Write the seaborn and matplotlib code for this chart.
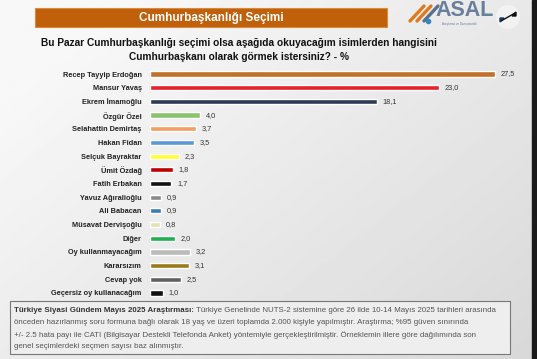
import numpy as np
import pandas as pd
import matplotlib.pyplot as plt
import seaborn as sns
from matplotlib.patches import Ellipse

names = ["Recep Tayyip Erdoğan", "Mansur Yavaş", "Ekrem İmamoğlu", "Özgür Özel",
         "Selahattin Demirtaş", "Hakan Fidan", "Selçuk Bayraktar", "Ümit Özdağ",
         "Fatih Erbakan", "Yavuz Ağıralioğlu", "Ali Babacan", "Müsavat Dervişoğlu",
         "Diğer", "Oy kullanmayacağım", "Kararsızım", "Cevap yok",
         "Geçersiz oy kullanacağım"]
values = [27.5, 23.0, 18.1, 4.0, 3.7, 3.5, 2.3, 1.8, 1.7, 0.9, 0.9, 0.8,
          2.0, 3.2, 3.1, 2.5, 1.0]
bar_colors = ["#C0712A", "#E3222B", "#2E3A55", "#8DC26F", "#F0A062", "#5B9BD5",
              "#FFFF33", "#C00000", "#111111", "#8A8A8A", "#3A7DB5", "#E2E2B4",
              "#20B050", "#BBBBBB", "#9C7A1A", "#606060", "#111111"]

title = "Cumhurbaşkanlığı Seçimi"
question = ("Bu Pazar Cumhurbaşkanlığı seçimi olsa aşağıda okuyacağım isimlerden hangisini\n"
            "Cumhurbaşkanı olarak görmek istersiniz? - %")
note_bold = "Türkiye Siyasi Gündem Mayıs 2025 Araştırması:"
note_lines = [
    " Türkiye Genelinde NUTS-2 sistemine göre 26 ilde 10-14 Mayıs 2025 tarihleri arasında",
    "önceden hazırlanmış soru formuna bağlı olarak 18 yaş ve üzeri toplamda 2.000 kişiyle yapılmıştır. Araştırma; %95 güven sınırında",
    "+/- 2.5 hata payı ile CATI (Bilgisayar Destekli Telefonda Anket) yöntemiyle gerçekleştirilmiştir. Örneklemin illere göre dağılımında son",
    "genel seçimlerdeki seçmen sayısı baz alınmıştır.",
]

df = pd.DataFrame({"name": names, "value": values})
palette = dict(zip(names, bar_colors))

sns.set_style("white")
plt.rcParams["font.family"] = ["Liberation Sans", "DejaVu Sans"]

W, H = 537, 359
fig = plt.figure(figsize=(W / 100, H / 100), dpi=100)

# slide background with soft gradient
bg = fig.add_axes([0, 0, 1, 1])
yy, xx = np.mgrid[0:1:200j, 0:1:300j]
grad = 0.97 - 0.13 * np.clip(0.6 * xx + 0.5 * yy - 0.15, 0, 1)
bg.imshow(grad, cmap="gray", vmin=0, vmax=1, aspect="auto", extent=[0, 1, 0, 1], origin="upper")
bg.set_xlim(0, 1)
bg.set_ylim(0, 1)
bg.axis("off")
bg.add_patch(plt.Rectangle((0.99, 0), 0.02, 1, color="#1a1a1a"))

# orange banner
bg.add_patch(plt.Rectangle((35 / W, 1 - 27 / H), 352 / W, 19 / H, color="#C0600B", ec="#d98a3a", lw=0.8))
bg.text(211 / W, 1 - 17.5 / H, title, ha="center", va="center", color="white",
        fontsize=8.5, fontweight="bold")

# logo
for i, c in enumerate(["#E07A1F", "#E07A1F", "#5A6F8C"]):
    bg.plot([(410 + i * 7) / W, (424 + i * 7) / W], [1 - 21 / H, 1 - 6 / H], color=c, lw=2.4,
            solid_capstyle="round")
bg.scatter([428 / W], [1 - 21 / H], s=9, color="#2E8BC0", zorder=3)
bg.text(435 / W, 1 - 16 / H, "ASAL", fontsize=15.5, fontweight="bold", color="#6A7F9C",
        ha="left", va="baseline")
bg.text(442 / W, 1 - 23.5 / H, "Araştırma ve Danışmanlık", fontsize=2.2, color="#6A7F9C",
        ha="left", va="center")
bg.add_patch(Ellipse((508 / W, 1 - 17 / H), 24 / W, 24 / H, color="#f2f2f2", ec="none"))
# expand icon
bg.fill([504 / W, 500 / W, 500 / W], [1 - 18 / H, 1 - 22 / H, 1 - 18 / H], color="#1a3a6a")
bg.fill([512 / W, 516 / W, 516 / W], [1 - 16 / H, 1 - 12 / H, 1 - 16 / H], color="#111111")
bg.plot([501 / W, 515 / W], [1 - 21 / H, 1 - 13 / H], color="#111111", lw=1)

bg.text(239 / W, 1 - 50 / H, question, ha="center", va="center", fontsize=7.3,
        fontweight="bold", color="#111111", linespacing=1.45)

# bar chart
ax = fig.add_axes([150 / W, (H - 299.8) / H, 376.4 / W, 232.6 / H])
ax.patch.set_alpha(0)
sns.barplot(data=df, x="value", y="name", hue="name", palette=palette, legend=False,
            width=0.38, saturation=1, ax=ax, dodge=False)
ax.set_xlim(0, 30)
ax.set_ylim(len(names) - 0.5, -0.5)
ax.set_xlabel("")
ax.set_ylabel("")
ax.set_xticks([])
sns.despine(ax=ax, left=True, bottom=True)
ax.tick_params(axis="y", length=0, pad=6, labelsize=5.3, labelcolor="#222222")
for lab in ax.get_yticklabels():
    lab.set_fontweight("bold")
for i, v in enumerate(values):
    ax.text(v + 0.45, i, f"{v:.1f}".replace(".", ","), va="center", ha="left",
            fontsize=5.3, color="#333333")

# survey note box
bg.add_patch(plt.Rectangle((10 / W, 1 - 354 / H), 500 / W, 53 / H, fc="#eeeeee",
                           ec="#777777", lw=0.8))
t0 = bg.text(14 / W, 1 - 311 / H, note_bold, fontsize=5.7, fontweight="bold",
             color="#333333", ha="left", va="center")
bg.annotate(note_lines[0], xy=(1, 0), xycoords=t0, fontsize=5.7, color="#555555",
            ha="left", va="bottom")
for k, line in enumerate(note_lines[1:]):
    bg.text(14 / W, 1 - (323 + k * 11.6) / H, line, fontsize=5.7, color="#555555",
            ha="left", va="center")

fig.savefig("out.png", dpi=100)
